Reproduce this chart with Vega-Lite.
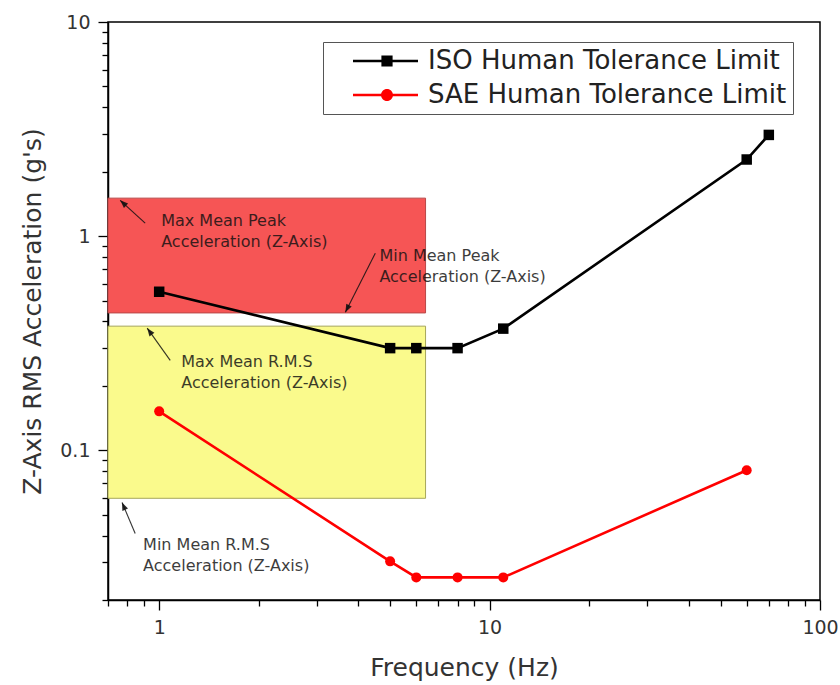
{
  "$schema": "https://vega.github.io/schema/vega-lite/v6.json",
  "width": 712,
  "height": 578,
  "autosize": {"type": "none"},
  "padding": {"left": 108, "top": 22, "right": 20, "bottom": 85},
  "background": "white",
  "config": {
    "view": {"stroke": "black", "strokeWidth": 1.5},
    "font": "DejaVu Sans",
    "axis": {
      "grid": false,
      "domainColor": "black",
      "domainWidth": 1.5,
      "tickColor": "black",
      "tickWidth": 1.3,
      "labelFont": "DejaVu Sans",
      "labelFontSize": 19,
      "labelColor": "#333",
      "labelPadding": 8,
      "labelOverlap": false,
      "labelFlush": false,
      "titleFont": "DejaVu Sans",
      "titleFontSize": 25,
      "titleFontWeight": "normal",
      "titleColor": "#333"
    }
  },
  "datasets": {
    "series": [
      {"series": "ISO Human Tolerance Limit", "freq": 1, "acc": 0.55},
      {"series": "ISO Human Tolerance Limit", "freq": 5, "acc": 0.3},
      {"series": "ISO Human Tolerance Limit", "freq": 6, "acc": 0.3},
      {"series": "ISO Human Tolerance Limit", "freq": 8, "acc": 0.3},
      {"series": "ISO Human Tolerance Limit", "freq": 11, "acc": 0.37},
      {"series": "ISO Human Tolerance Limit", "freq": 60, "acc": 2.28},
      {"series": "ISO Human Tolerance Limit", "freq": 70, "acc": 2.97},
      {"series": "SAE Human Tolerance Limit", "freq": 1, "acc": 0.152},
      {"series": "SAE Human Tolerance Limit", "freq": 5, "acc": 0.0303},
      {"series": "SAE Human Tolerance Limit", "freq": 6, "acc": 0.0255},
      {"series": "SAE Human Tolerance Limit", "freq": 8, "acc": 0.0255},
      {"series": "SAE Human Tolerance Limit", "freq": 11, "acc": 0.0255},
      {"series": "SAE Human Tolerance Limit", "freq": 60, "acc": 0.0807}
    ],
    "zones": [
      {"zone": "Peak", "f1": 0.7, "f2": 6.4, "a1": 0.438, "a2": 1.505},
      {"zone": "RMS", "f1": 0.7, "f2": 6.4, "a1": 0.0597, "a2": 0.38}
    ],
    "notes": [
      {"nx": 1.014, "ny": 1.117, "note": ["Max Mean Peak", "Acceleration (Z-Axis)"]},
      {"nx": 4.64, "ny": 0.764, "note": ["Min Mean Peak", "Acceleration (Z-Axis)"]},
      {"nx": 1.166, "ny": 0.244, "note": ["Max Mean R.M.S", "Acceleration (Z-Axis)"]},
      {"nx": 0.894, "ny": 0.0341, "note": ["Min Mean R.M.S", "Acceleration (Z-Axis)"]}
    ],
    "arrows": [
      {"tx": 0.907, "ty": 1.15, "hx": 0.762, "hy": 1.47, "dir": 313},
      {"tx": 4.51, "ty": 0.833, "hx": 3.66, "hy": 0.441, "dir": 207},
      {"tx": 1.08, "ty": 0.263, "hx": 0.92, "hy": 0.372, "dir": 324},
      {"tx": 0.846, "ty": 0.0409, "hx": 0.772, "hy": 0.0571, "dir": 337}
    ]
  },
  "layer": [
    {
      "data": {"name": "zones"},
      "transform": [{"filter": "datum.zone === 'Peak'"}],
      "mark": {"type": "rect", "strokeWidth": 1, "fill": "#f65555", "stroke": "#b84848"},
      "encoding": {
        "x": {
          "field": "f1", "type": "quantitative",
          "scale": {"type": "log", "domain": [0.7, 100], "nice": false},
          "axis": {
            "title": "Frequency (Hz)",
            "values": [0.7, 0.8, 0.9, 1, 2, 3, 4, 5, 6, 7, 8, 9, 10, 20, 30, 40, 50, 60, 70, 80, 90, 100],
            "format": "~g",
            "labelExpr": "indexof(['1','10','100'], datum.label) >= 0 ? datum.label : ''",
            "tickSize": {"condition": {"test": "indexof([1,10,100], datum.value) >= 0", "value": 10}, "value": 6},
            "titlePadding": 18
          }
        },
        "x2": {"field": "f2"},
        "y": {
          "field": "a1", "type": "quantitative",
          "scale": {"type": "log", "domain": [0.02, 10], "nice": false},
          "axis": {
            "title": "Z-Axis RMS Acceleration (g's)",
            "values": [0.02, 0.03, 0.04, 0.05, 0.06, 0.07, 0.08, 0.09, 0.1, 0.2, 0.3, 0.4, 0.5, 0.6, 0.7, 0.8, 0.9, 1, 2, 3, 4, 5, 6, 7, 8, 9, 10],
            "format": "~g",
            "labelExpr": "indexof(['0.1','1','10'], datum.label) >= 0 ? datum.label : ''",
            "tickSize": {"condition": {"test": "indexof([0.1,1,10], datum.value) >= 0", "value": 10}, "value": 6},
            "titlePadding": 14
          }
        },
        "y2": {"field": "a2"}
      }
    },
    {
      "data": {"name": "zones"},
      "transform": [{"filter": "datum.zone === 'RMS'"}],
      "mark": {"type": "rect", "strokeWidth": 1, "fill": "#fafa8c", "stroke": "#a6a65a"},
      "encoding": {
        "x": {"field": "f1", "type": "quantitative"},
        "x2": {"field": "f2"},
        "y": {"field": "a1", "type": "quantitative"},
        "y2": {"field": "a2"}
      }
    },
    {
      "data": {"name": "notes"},
      "mark": {"type": "text", "align": "left", "baseline": "alphabetic", "fontSize": 16, "lineHeight": 21, "font": "DejaVu Sans", "fill": "#111", "opacity": 0.82},
      "encoding": {
        "x": {"field": "nx", "type": "quantitative"},
        "y": {"field": "ny", "type": "quantitative"},
        "text": {"field": "note"}
      }
    },
    {
      "data": {"name": "arrows"},
      "mark": {"type": "rule", "stroke": "#111", "strokeWidth": 1.1, "opacity": 0.85},
      "encoding": {
        "x": {"field": "tx", "type": "quantitative"},
        "y": {"field": "ty", "type": "quantitative"},
        "x2": {"field": "hx"},
        "y2": {"field": "hy"}
      }
    },
    {
      "data": {"name": "arrows"},
      "mark": {"type": "point", "shape": "M0,0L-0.38,1L0.38,1Z", "filled": true, "size": 256, "fill": "#111", "opacity": 0.9, "strokeWidth": 0},
      "encoding": {
        "x": {"field": "hx", "type": "quantitative"},
        "y": {"field": "hy", "type": "quantitative"},
        "angle": {"field": "dir", "type": "quantitative", "scale": null}
      }
    },
    {
      "data": {"name": "series"},
      "transform": [{"filter": "datum.series === 'ISO Human Tolerance Limit'"}],
      "mark": {"type": "line", "strokeWidth": 2.6, "stroke": "black"},
      "encoding": {
        "x": {"field": "freq", "type": "quantitative"},
        "y": {"field": "acc", "type": "quantitative"}
      }
    },
    {
      "data": {"name": "series"},
      "transform": [{"filter": "datum.series === 'SAE Human Tolerance Limit'"}],
      "mark": {"type": "line", "strokeWidth": 2.6, "stroke": "#ff0000"},
      "encoding": {
        "x": {"field": "freq", "type": "quantitative"},
        "y": {"field": "acc", "type": "quantitative"}
      }
    },
    {
      "data": {"name": "series"},
      "transform": [{"filter": "datum.series === 'ISO Human Tolerance Limit'"}],
      "mark": {"type": "point", "shape": "square", "filled": true, "size": 110, "opacity": 1},
      "encoding": {
        "x": {"field": "freq", "type": "quantitative"},
        "y": {"field": "acc", "type": "quantitative"},
        "color": {
          "field": "series", "type": "nominal",
          "scale": {"domain": ["ISO Human Tolerance Limit", "SAE Human Tolerance Limit"], "range": ["black", "#ff0000"]},
          "legend": {
            "title": null,
            "orient": "none",
            "legendX": 215,
            "legendY": 20,
            "padding": 6,
            "strokeColor": "#555",
            "fillColor": "white",
            "symbolType": {"expr": "datum.value === 'ISO Human Tolerance Limit' ? 'M-0.4,-0.033H1.225V0.033H-0.4Z M0.31,-0.14H0.59V0.14H0.31Z' : 'M-0.4,-0.033H1.225V0.033H-0.4Z M0.6,0A0.15,0.15 0 1,1 0.3,0A0.15,0.15 0 1,1 0.6,0Z'"},
            "symbolSize": 6400,
            "symbolStrokeWidth": 0,
            "symbolOpacity": 1,
            "clipHeight": 26,
            "rowPadding": 8,
            "labelOffset": 19,
            "labelFont": "DejaVu Sans",
            "labelFontSize": 26,
            "labelColor": "#222",
            "labelLimit": 600
          }
        }
      }
    },
    {
      "data": {"name": "series"},
      "transform": [{"filter": "datum.series === 'SAE Human Tolerance Limit'"}],
      "mark": {"type": "point", "shape": "circle", "filled": true, "size": 100, "opacity": 1},
      "encoding": {
        "x": {"field": "freq", "type": "quantitative"},
        "y": {"field": "acc", "type": "quantitative"},
        "color": {"field": "series", "type": "nominal"}
      }
    }
  ]
}
